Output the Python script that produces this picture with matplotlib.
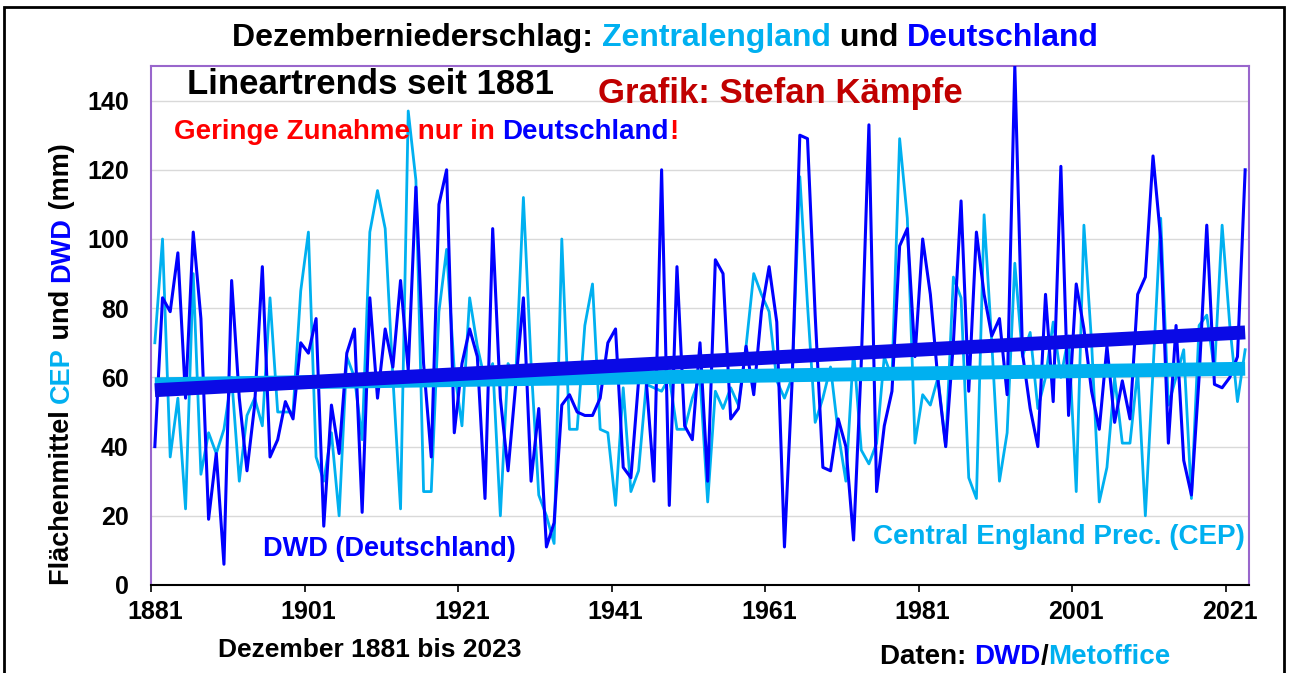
import numpy as np
import matplotlib.pyplot as plt
from matplotlib.patches import Rectangle

# Dezemberniederschlag 1881-2023 (mm)
years = np.arange(1881, 2024)
dwd = [40, 83, 79, 96, 54, 102, 77, 19, 38, 6, 88, 54, 33, 52, 92, 37, 42, 53, 48, 70,
       67, 77, 17, 52, 38, 67, 74, 21, 83, 54, 74, 63, 88, 62, 115, 64, 37, 110, 120, 44,
       64, 74, 66, 25, 103, 54, 33, 58, 83, 30, 51, 11, 18, 52, 55, 50, 49, 49, 54, 70,
       74, 34, 31, 59, 59, 30, 120, 23, 92, 46, 42, 70, 30, 94, 90, 48, 51, 69, 55, 79,
       92, 76, 11, 59, 130, 129, 78, 34, 33, 48, 40, 13, 64, 133, 27, 46, 56, 98, 103, 66,
       100, 84, 59, 40, 70, 111, 56, 102, 84, 72, 77, 55, 150, 67, 51, 40, 84, 53, 121, 49,
       87, 74, 56, 45, 69, 47, 59, 48, 84, 89, 124, 100, 41, 75, 36, 26, 60, 104, 58, 57,
       60, 66, 120]
cep = [70, 100, 37, 54, 22, 90, 32, 44, 38, 45, 60, 30, 49, 54, 46, 83, 50, 50, 50, 85,
       102, 37, 30, 44, 20, 66, 60, 42, 102, 114, 103, 60, 22, 137, 117, 27, 27, 79, 97, 62,
       46, 83, 69, 59, 64, 20, 64, 60, 112, 64, 26, 20, 12, 100, 45, 45, 75, 87, 45, 44,
       23, 57, 27, 33, 58, 57, 56, 60, 45, 45, 54, 60, 24, 56, 51, 57, 52, 69, 90, 84,
       79, 59, 54, 60, 118, 81, 47, 54, 63, 44, 30, 68, 39, 35, 41, 66, 60, 129, 106, 41,
       55, 52, 60, 40, 89, 83, 31, 25, 107, 70, 30, 44, 93, 66, 73, 51, 60, 76, 60, 72,
       27, 104, 70, 24, 34, 60, 41, 41, 62, 20, 62, 106, 52, 60, 68, 25, 75, 78, 62, 104,
       75, 53, 68]

# Lineartrends (Anfang/Ende)
trend_years = [1881, 2023]
trend_dwd = [56.3, 73.0]
trend_cep = [58.0, 62.5]

xticks = list(range(1881, 2022, 20))
yticks = list(range(0, 141, 20))

W, H = 1290, 673
BLUE = '#0000FF'
LIGHT = '#00B0F0'
RED = '#FF0000'
DARKRED = '#C00000'
PURPLE = '#9966CC'

plt.rcParams['font.family'] = ['Liberation Sans', 'DejaVu Sans']
plt.rcParams['font.weight'] = 'bold'

fig = plt.figure(figsize=(W / 100, H / 100), dpi=100)
ax = fig.add_axes([151 / W, 1 - 585 / H, (1249 - 151) / W, (585 - 66) / H])

ax.plot(years, cep, color=LIGHT, lw=2.0, zorder=3)
ax.plot(years, dwd, color=BLUE, lw=2.2, zorder=4)
ax.plot(trend_years, trend_cep, color=LIGHT, lw=10, solid_capstyle='butt', zorder=5)
ax.plot(trend_years, trend_dwd, color='#0A0AE6', lw=10, solid_capstyle='butt', zorder=6)

ax.set_xlim(1880.5, 2023.5)
ax.set_ylim(0, 150)
ax.set_xticks(xticks)
ax.set_xticks([x - 0.5 for x in xticks], minor=True)
ax.set_yticks(yticks)
ax.tick_params(axis='x', which='major', length=0, pad=11, labelsize=18)
ax.tick_params(axis='x', which='minor', length=5, width=1.2, direction='out', color='black')
ax.tick_params(axis='y', length=0, pad=16, labelsize=18)
for lab in ax.get_xticklabels() + ax.get_yticklabels():
    lab.set_fontweight('bold')

ax.grid(axis='y', color='#D9D9D9', lw=1)
ax.set_axisbelow(True)
for side in ['left', 'top', 'right']:
    ax.spines[side].set_color(PURPLE)
    ax.spines[side].set_linewidth(1.5)
ax.spines['bottom'].set_color('black')
ax.spines['bottom'].set_linewidth(1.5)


def chain(x, y, parts, size, rotation=0):
    # mehrfarbiger Text, Teile hintereinander
    if rotation:
        t = fig.text(x / W, 1 - y / H, parts[0][0], color=parts[0][1], fontsize=size,
                     fontweight='bold', rotation=90, ha='center', va='bottom')
        for s, c in parts[1:]:
            t = ax.annotate(s, xy=(0.5, 1), xycoords=t, ha='center', va='bottom',
                            rotation=90, color=c, fontsize=size, fontweight='bold')
    else:
        t = fig.text(x / W, 1 - y / H, parts[0][0], color=parts[0][1], fontsize=size,
                     fontweight='bold', ha='left', va='center')
        for s, c in parts[1:]:
            t = ax.annotate(s, xy=(1, 0.5), xycoords=t, ha='left', va='center',
                            color=c, fontsize=size, fontweight='bold')


chain(232, 38, [('Dezemberniederschlag: ', 'black'), ('Zentralengland', LIGHT),
                (' und ', 'black'), ('Deutschland', BLUE)], 23)
chain(187, 85, [('Lineartrends seit 1881', 'black')], 25)
chain(598, 93, [('Grafik: Stefan Kämpfe', DARKRED)], 25)
chain(174, 132, [('Geringe Zunahme nur in ', RED), ('Deutschland', BLUE), ('!', RED)], 20)
chain(263, 549, [('DWD (Deutschland)', BLUE)], 19.5)
chain(873, 537, [('Central England Prec. (CEP)', LIGHT)], 20)
chain(218, 650, [('Dezember 1881 bis 2023', 'black')], 19)
chain(880, 657, [('Daten: ', 'black'), ('DWD', BLUE), ('/', 'black'), ('Metoffice', LIGHT)], 20)
chain(62, 585, [('Flächenmittel ', 'black'), ('CEP', LIGHT), (' und ', 'black'),
                ('DWD', BLUE), (' (mm)', 'black')], 19.5, rotation=90)

fig.add_artist(Rectangle((4 / W, -0.1), (1284 - 4) / W, 1 - 7 / H + 0.1, fill=False,
                         ec='black', lw=2, transform=fig.transFigure))

fig.savefig('out.png', dpi=100)
